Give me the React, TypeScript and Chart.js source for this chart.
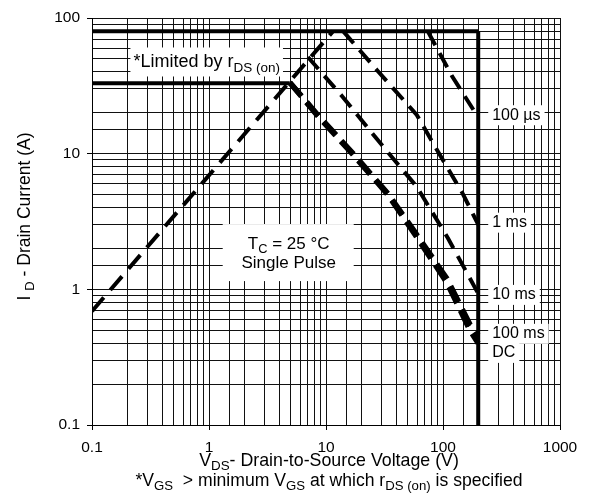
import React, { useEffect, useRef } from "react";
import { Chart, registerables } from "chart.js";

Chart.register(...registerables);

// ---------- data (V in volts, I in amperes) ----------
const xTickValues = [0.1, 1, 10, 100, 1000];
const yTickValues = [0.1, 1, 10, 100];

const rdsLimitV = [0.1, 11.5];
const rdsLimitI = [0.69, 80];

const maxCurrentV = [0.1, 200];
const maxCurrentI = [80, 80];

const rdsCurrentV = [0.1, 4.9];
const rdsCurrentI = [33, 33];

const bvdssV = [200, 200];
const bvdssI = [80, 0.1];

const us100V = [74, 120, 200];
const us100I = [80, 37, 18.5];

const ms1V = [14, 27.2, 59.7, 99.5, 147, 200];
const ms1I = [80, 41.4, 19.3, 9.0, 5.1, 3.0];

const ms10V = [7, 13.9, 27.7, 59.7, 110, 200];
const ms10I = [51.6, 26.2, 12.6, 5.7, 2.39, 0.93];

const ms100V = [4.9, 8.5, 16.9, 33.7, 57.4, 108, 170, 200];
const ms100I = [33.5, 19.3, 10.1, 5.1, 2.65, 1.2, 0.55, 0.46];

const dcV = [4.9, 8.5, 16.9, 33.7, 57.4, 108, 170, 200];
const dcI = [33.5, 19.0, 9.9, 5.0, 2.55, 1.12, 0.5, 0.4];

const curveLabels = ["100 µs", "1 ms", "10 ms", "100 ms", "DC"];
const curveLabelI = [19.2, 3.1, 0.91, 0.47, 0.34];

const FONT = "'Liberation Sans', Arial, Helvetica, sans-serif";

type Part = { t: string; sub?: boolean };

function partFont(size: number, sub?: boolean) {
  return `${sub ? (size * 0.75).toFixed(1) : size}px ${FONT}`;
}

function measureRich(ctx: CanvasRenderingContext2D, parts: Part[], size: number) {
  let w = 0;
  for (const p of parts) {
    ctx.font = partFont(size, p.sub);
    w += ctx.measureText(p.t).width;
  }
  return w;
}

function drawRich(
  ctx: CanvasRenderingContext2D,
  parts: Part[],
  x: number,
  y: number,
  size: number,
  align: "left" | "center"
) {
  const w = measureRich(ctx, parts, size);
  let cx = align === "center" ? x - w / 2 : x;
  ctx.textAlign = "left";
  ctx.textBaseline = "middle";
  ctx.fillStyle = "#000";
  for (const p of parts) {
    ctx.font = partFont(size, p.sub);
    ctx.fillText(p.t, cx, p.sub ? y + size * 0.3 : y);
    cx += ctx.measureText(p.t).width;
  }
  return w;
}

function whiteBox(ctx: CanvasRenderingContext2D, x: number, y: number, w: number, h: number) {
  ctx.fillStyle = "#fff";
  ctx.fillRect(x, y, w, h);
}

const annotationPlugin = {
  id: "soaAnnotations",
  beforeDatasetsDraw(chart: any) {
    const ctx: CanvasRenderingContext2D = chart.ctx;
    const xs = chart.scales.x;
    const ys = chart.scales.y;
    ctx.save();

    // *Limited by rDS(on)
    const limParts: Part[] = [{ t: "*Limited by r" }, { t: "DS (on)", sub: true }];
    const limSize = 18;
    const lx = xs.getPixelForValue(0.226);
    const ly = ys.getPixelForValue(47);
    const lw = measureRich(ctx, limParts, limSize);
    whiteBox(ctx, lx - 3, ly - 15, lw + 6, 29);
    drawRich(ctx, limParts, lx, ly, limSize, "left");

    // TC = 25 °C / Single Pulse
    const tcSize = 17;
    const tcx = xs.getPixelForValue(4.8);
    const tcy = ys.getPixelForValue(1.85);
    whiteBox(ctx, tcx - 66, tcy - 29, 131, 57);
    drawRich(ctx, [{ t: "T" }, { t: "C", sub: true }, { t: " = 25 °C" }], tcx, tcy - 9, tcSize, "center");
    drawRich(ctx, [{ t: "Single Pulse" }], tcx, tcy + 10, tcSize, "center");

    // curve labels on the right
    const rx = xs.getPixelForValue(200) + 14;
    const labSize = 16;
    curveLabels.forEach((lab, i) => {
      const y = ys.getPixelForValue(curveLabelI[i]);
      ctx.font = partFont(labSize);
      const w = ctx.measureText(lab).width;
      whiteBox(ctx, rx - 4, y - 10, w + 8, 20);
    });
    curveLabels.forEach((lab, i) => {
      const y = ys.getPixelForValue(curveLabelI[i]);
      drawRich(ctx, [{ t: lab }], rx, y, labSize, "left");
    });
    ctx.restore();
  },
  afterDraw(chart: any) {
    const ctx: CanvasRenderingContext2D = chart.ctx;
    const a = chart.chartArea;
    ctx.save();
    const cx = (a.left + a.right) / 2 + 3;
    drawRich(
      ctx,
      [{ t: "V" }, { t: "DS", sub: true }, { t: "- Drain-to-Source Voltage (V)" }],
      cx,
      461,
      17.8,
      "center"
    );
    drawRich(
      ctx,
      [
        { t: "*V" },
        { t: "GS", sub: true },
        { t: "  > minimum V" },
        { t: "GS", sub: true },
        { t: " at which r" },
        { t: "DS (on)", sub: true },
        { t: " is specified" },
      ],
      cx,
      481,
      17.6,
      "center"
    );
    ctx.translate(25, (a.top + a.bottom) / 2 - 5);
    ctx.rotate(-Math.PI / 2);
    drawRich(ctx, [{ t: "I " }, { t: "D", sub: true }, { t: " - Drain Current (A)" }], 0, 0, 17.5, "center");
    ctx.restore();
  },
};

function isMajor(v: number) {
  const l = Math.log10(v);
  return Math.abs(l - Math.round(l)) < 1e-6;
}

function line(xs: number[], ys: number[], width: number, dash: number[]) {
  return {
    data: xs.map((x, i) => ({ x, y: ys[i] })),
    showLine: true,
    borderColor: "#000",
    backgroundColor: "#000",
    borderWidth: width,
    borderDash: dash,
    pointRadius: 0,
    fill: false,
    tension: 0,
  };
}

export default function App() {
  const ref = useRef<HTMLCanvasElement | null>(null);
  useEffect(() => {
    if (!ref.current) return;
    const gridColor = "#111";
    const chart = new Chart(ref.current, {
      type: "scatter",
      data: {
        datasets: [
          line(maxCurrentV, maxCurrentI, 4, []),
          line(rdsCurrentV, rdsCurrentI, 4, []),
          line(bvdssV, bvdssI, 4, []),
          line(rdsLimitV, rdsLimitI, 4, [18, 10]),
          line(us100V, us100I, 4, [16, 9]),
          line(ms1V, ms1I, 4, [16, 9]),
          line(ms10V, ms10I, 4, [16, 9]),
          line(ms100V, ms100I, 5.5, [18, 8]),
          line(dcV, dcI, 5.5, [18, 8]),
        ] as any,
      },
      options: {
        animation: false,
        responsive: false,
        devicePixelRatio: 1,
        layout: { padding: { left: 0, top: 18, right: 30, bottom: 0 } },
        plugins: { legend: { display: false }, tooltip: { enabled: false } },
        scales: {
          x: {
            type: "logarithmic",
            min: 0.1,
            max: 1000,
            afterFit: (s: any) => {
              s.height = 79;
            },
            border: { display: true, color: "#000", width: 1 },
            grid: {
              color: gridColor,
              lineWidth: 1,
              tickLength: 5,
              tickColor: (c: any) => (c.tick && isMajor(c.tick.value) ? "#000" : "rgba(0,0,0,0)"),
            },
            ticks: {
              autoSkip: false,
              maxRotation: 0,
              padding: 8,
              color: "#000",
              font: { family: FONT, size: 15.5 },
              callback: (v: any) => (isMajor(Number(v)) ? String(Number(Number(v).toPrecision(3))) : ""),
            },
          },
          y: {
            type: "logarithmic",
            min: 0.1,
            max: 100,
            afterFit: (s: any) => {
              s.width = 92;
            },
            border: { display: true, color: "#000", width: 1 },
            grid: {
              color: gridColor,
              lineWidth: 1,
              tickLength: 5,
              tickColor: (c: any) => (c.tick && isMajor(c.tick.value) ? "#000" : "rgba(0,0,0,0)"),
            },
            ticks: {
              autoSkip: false,
              padding: 7,
              color: "#000",
              font: { family: FONT, size: 15.5 },
              callback: (v: any) => (isMajor(Number(v)) ? String(Number(Number(v).toPrecision(3))) : ""),
            },
          },
        },
      },
      plugins: [annotationPlugin],
    } as any);
    return () => chart.destroy();
  }, []);
  return (
    <div style={{ position: "absolute", left: 0, top: 0, width: 590, height: 504, background: "#fff" }}>
      <canvas ref={ref} width={590} height={504} style={{ width: 590, height: 504, display: "block" }} />
    </div>
  );
}
